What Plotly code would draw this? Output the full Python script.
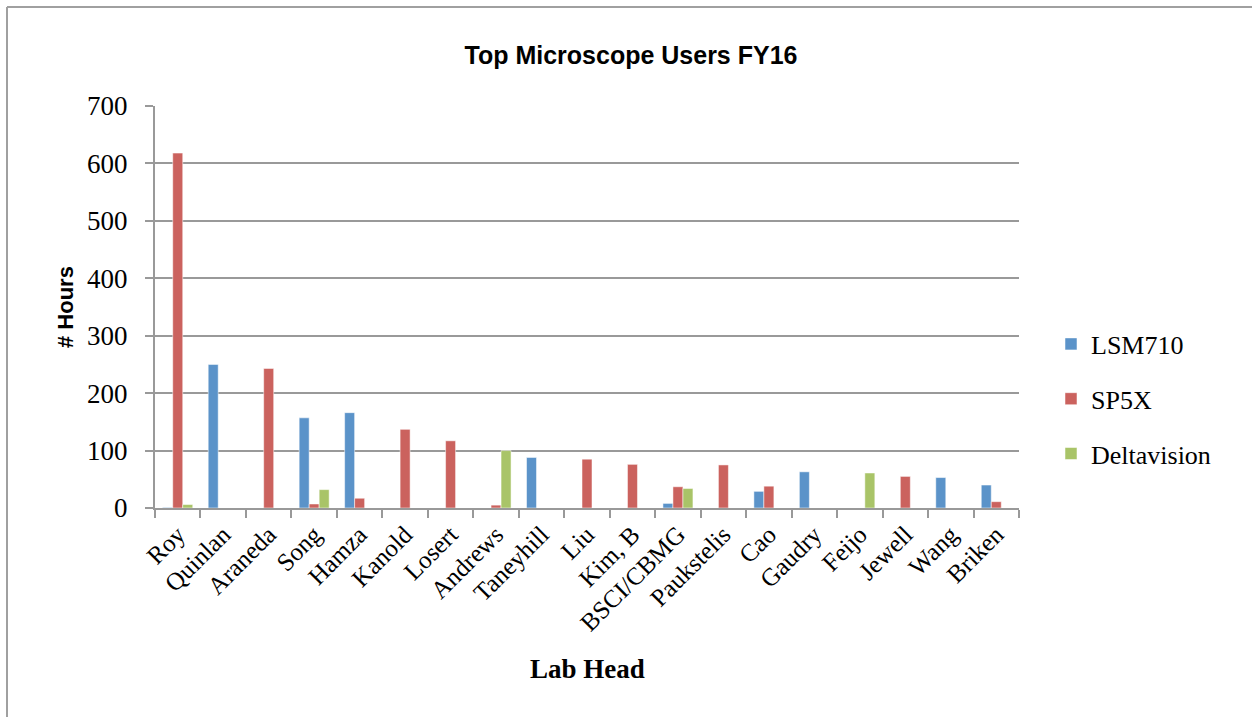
import plotly.graph_objects as go

labs = ["Roy", "Quinlan", "Araneda", "Song", "Hamza", "Kanold", "Losert", "Andrews",
        "Taneyhill", "Liu", "Kim, B", "BSCI/CBMG", "Paukstelis", "Cao", "Gaudry",
        "Feijo", "Jewell", "Wang", "Briken"]
lsm710 = [1, 250, None, 157, 166, None, None, None, 88, None, None, 8, None, 29, 63, None, None, 53, 40]
sp5x = [618, None, 243, 7, 17, 137, 117, 5, None, 85, 76, 37, 75, 38, None, None, 55, None, 11]
deltavision = [6, None, None, 32, None, None, None, 100, None, None, None, 34, None, None, None, 61, None, None, None]
y_ticks = [0, 100, 200, 300, 400, 500, 600, 700]

series = [("LSM710", lsm710, "#5B93C9"), ("SP5X", sp5x, "#CB625E"), ("Deltavision", deltavision, "#A9C468")]

fig = go.Figure()
for i, (name, vals, col) in enumerate(series):
    fig.add_trace(go.Bar(
        x=labs, y=vals, name=name, legendgroup=name,
        marker=dict(color=col, line=dict(color="rgba(255,255,255,0.5)", width=1)),
    ))

W, H = 1253, 717
L, R, T, B = 155, 1019, 106, 508
pw, ph = R - L, B - T

def px(x):
    return (x - L) / pw

def py(y):
    return (B - y) / ph

serif = "Liberation Serif"
sans = "Liberation Sans"

fig.update_layout(
    width=W, height=H,
    margin=dict(l=L, r=W - R, t=T, b=H - B),
    paper_bgcolor="white", plot_bgcolor="white",
    barmode="group", bargap=0.34, bargroupgap=0,
    showlegend=True,
    legend=dict(x=px(1051), xanchor="left", y=py(399), yanchor="middle",
                font=dict(family=serif, size=26, color="black"),
                traceorder="grouped", tracegroupgap=18, itemwidth=30,
                bgcolor="rgba(0,0,0,0)"),
    title=dict(text="<b>Top Microscope Users FY16</b>", x=631 / W, xref="container", xanchor="center",
               y=1 - 55 / H, yref="container", yanchor="middle",
               font=dict(family=sans, size=25, color="black")),
    font=dict(family=serif, size=24, color="black"),
    xaxis=dict(
        type="category", tickangle=-45, tickson="boundaries",
        ticks="outside", ticklen=8, tickcolor="#999999", tickwidth=2,
        showline=True, linecolor="#999999", linewidth=2,
        showgrid=False, tickfont=dict(family=serif, size=25, color="black"),
        automargin=False,
    ),
    yaxis=dict(
        range=[0, 700], tickvals=y_ticks, ticks="outside", ticklen=8,
        tickcolor="#999999", tickwidth=2,
        showline=True, linecolor="#999999", linewidth=2,
        showgrid=True, gridcolor="#999999", gridwidth=2, zeroline=False,
        tickfont=dict(family=serif, size=27, color="black"),
        ticklabelstandoff=12, automargin=False,
    ),
    annotations=[
        dict(text="<b># Hours</b>", x=px(65), y=py(307), xref="paper", yref="paper",
             textangle=-90, showarrow=False, xanchor="center", yanchor="middle",
             font=dict(family=sans, size=22, color="black")),
        dict(text="<b>Lab Head</b>", x=px(587), y=py(669), xref="paper", yref="paper",
             showarrow=False, xanchor="center", yanchor="middle",
             font=dict(family=serif, size=27, color="black")),
    ],
    shapes=[
        dict(type="line", xref="paper", yref="paper", x0=px(7), x1=px(1252), y0=py(7), y1=py(7),
             line=dict(color="#a0a0a0", width=2)),
        dict(type="line", xref="paper", yref="paper", x0=px(7), x1=px(7), y0=py(7), y1=py(720),
             line=dict(color="#a0a0a0", width=2)),
    ],
)

fig.write_html("out.html")
